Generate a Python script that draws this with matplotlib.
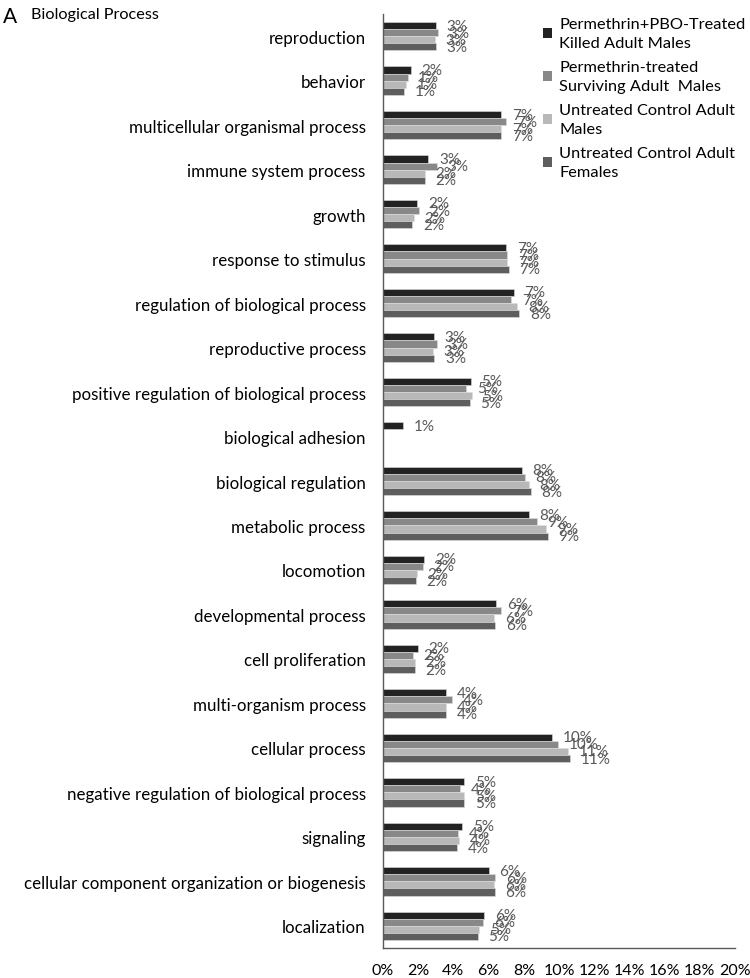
import matplotlib
matplotlib.use("Agg")
import matplotlib.pyplot as plt
import numpy as np
from matplotlib.patches import Patch

plt.rcParams["font.family"] = ["Lato", "DejaVu Sans"]

categories = [
    "reproduction", "behavior", "multicellular organismal process",
    "immune system process", "growth", "response to stimulus",
    "regulation of biological process", "reproductive process",
    "positive regulation of biological process", "biological adhesion",
    "biological regulation", "metabolic process", "locomotion",
    "developmental process", "cell proliferation", "multi-organism process",
    "cellular process", "negative regulation of biological process",
    "signaling", "cellular component organization or biogenesis",
    "localization",
]

# values in percent
killed_males = [3.00, 1.59, 6.72, 2.58, 1.95, 7.00, 7.42, 2.90, 4.99, 1.14, 7.87,
                8.27, 2.35, 6.43, 1.99, 3.60, 9.62, 4.61, 4.51, 6.01, 5.75]
surviving_males = [3.11, 1.40, 6.96, 3.04, 2.03, 7.06, 7.29, 3.07, 4.74, 0.0, 8.04,
                   8.73, 2.26, 6.73, 1.71, 3.93, 9.94, 4.38, 4.25, 6.37, 5.69]
control_males = [2.96, 1.31, 6.72, 2.39, 1.76, 7.06, 7.63, 2.85, 5.03, 0.0, 8.27,
                 9.28, 1.94, 6.32, 1.80, 3.57, 10.53, 4.61, 4.34, 6.32, 5.46]
control_females = [3.00, 1.21, 6.72, 2.39, 1.67, 7.15, 7.74, 2.92, 4.93, 0.0, 8.39,
                   9.35, 1.86, 6.37, 1.80, 3.60, 10.62, 4.61, 4.21, 6.34, 5.39]

series_labels = [
    "Permethrin+PBO-Treated\nKilled Adult Males",
    "Permethrin-treated\nSurviving Adult  Males",
    "Untreated Control Adult\nMales",
    "Untreated Control Adult\nFemales",
]
series = [killed_males, surviving_males, control_males, control_females]
colors = ["#222222", "#888888", "#b8b8b8", "#5e5e5e"]

fig = plt.figure(figsize=(7.5, 9.79), dpi=100)
ax = fig.add_axes([0.5107, 0.0306, 0.4693, 0.9541])

y = np.arange(len(categories))
h = 0.16
for j, (vals, col) in enumerate(zip(series, colors)):
    pos = y + (j - 1.5) * h
    ax.barh(pos, vals, height=h, color=col, edgecolor="#dddddd", linewidth=0.4)
    for p, v in zip(pos, vals):
        if v > 0:
            ax.text(v + 0.6, p, f"{v:.0f}%", va="center", ha="left",
                    fontsize=11, color="#595959")

ax.set_ylim(len(categories) - 0.5, -0.5)
ax.set_xlim(0, 20)
ax.set_xticks(np.arange(0, 21, 2))
ax.set_xticklabels([f"{t}%" for t in range(0, 21, 2)], fontsize=11.5)
ax.set_yticks(y)
ax.set_yticklabels(categories, fontsize=12.2)
ax.tick_params(length=0)
ax.tick_params(axis="y", pad=12.5)
ax.tick_params(axis="x", pad=11)
for s in ["top", "right"]:
    ax.spines[s].set_visible(False)
for s in ["left", "bottom"]:
    ax.spines[s].set_color("#595959")
    ax.spines[s].set_linewidth(1.0)

handles = [Patch(facecolor=c, label=l) for c, l in zip(colors, series_labels)]
leg = fig.legend(handles=handles, loc="upper left", bbox_to_anchor=(0.724, 0.982),
                 frameon=False, fontsize=11.8, handlelength=0.55, handleheight=0.55,
                 handletextpad=0.45, labelspacing=0.6, borderaxespad=0, borderpad=0)
for t in leg.get_texts():
    t.set_linespacing(1.48)

fig.text(0.004, 0.993, "A", fontsize=15, va="top", ha="left")
fig.text(0.041, 0.992, "Biological Process", fontsize=11.7, va="top", ha="left")

fig.savefig("out.png", dpi=100)
